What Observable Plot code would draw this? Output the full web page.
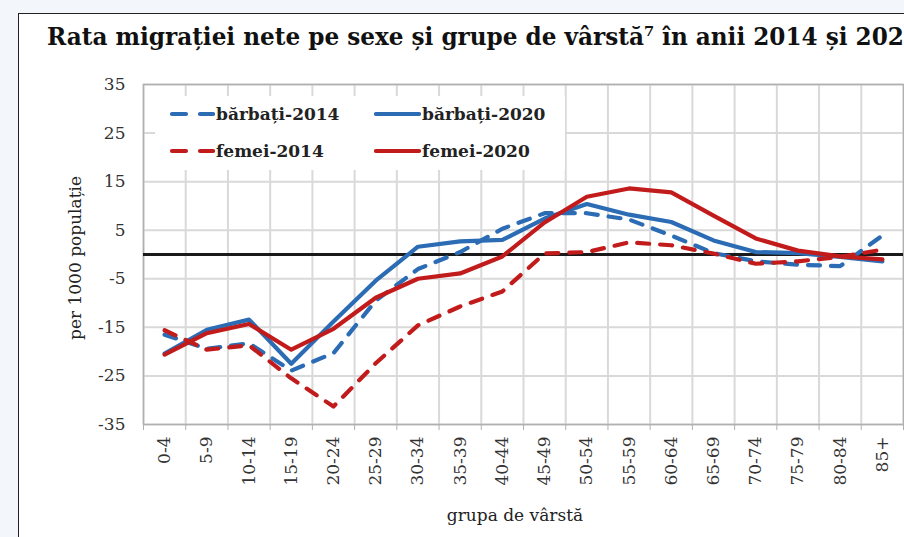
<!DOCTYPE html>
<html><head><meta charset="utf-8">
<script src="https://cdn.jsdelivr.net/npm/d3@7"></script>
<script src="https://cdn.jsdelivr.net/npm/@observablehq/plot@0.6"></script>
<style>
body{margin:0;background:#f3f7fc;width:904px;height:537px;overflow:hidden;position:relative;font-family:"DejaVu Serif",serif;color:#222}
#box{position:absolute;left:18px;top:13px;width:900px;height:540px;background:#fff;border:1.5px solid #222}
#title{position:absolute;left:0;top:0}
#chart{position:absolute;left:0;top:0}
#ylab{position:absolute;left:75px;top:258px;transform:translate(-50%,-50%) rotate(-90deg);font-size:17px;white-space:nowrap}
#xlab{position:absolute;left:515px;top:515px;transform:translate(-50%,-50%);font-size:17px;white-space:nowrap}
#legend{position:absolute;left:155px;top:96px;width:410px;height:74px;background:#fff}
.item{position:absolute;display:flex;align-items:center;font:bold 17px "DejaVu Serif",serif;white-space:nowrap}
.item svg{display:block;margin-right:1px}
</style></head>
<body>
<div id="box"></div>
<svg id="title" width="904" height="60"><text x="47" y="45" font-family="DejaVu Serif, serif" font-weight="bold" font-size="25" fill="#111" textLength="873" lengthAdjust="spacingAndGlyphs">Rata migrației nete pe sexe și grupe de vârstă⁷ în anii 2014 și 2020</text></svg>
<div id="chart"></div>
<div id="ylab">per 1000 populație</div>
<div id="xlab">grupa de vârstă</div>
<div id="legend"></div>
<script>
const ageGroups = ["0-4","5-9","10-14","15-19","20-24","25-29","30-34","35-39","40-44","45-49","50-54","55-59","60-64","65-69","70-74","75-79","80-84","85+"];
const barbati2014 = [-16.5,-19.4,-18.3,-23.9,-20.3,-9.5,-3.0,0.5,5.3,8.5,8.5,7.2,3.9,0.3,-1.4,-2.1,-2.4,3.9];
const barbati2020 = [-20.4,-15.5,-13.4,-22.5,-13.8,-5.4,1.6,2.7,3.0,7.4,10.4,8.2,6.7,2.9,0.5,0.3,-0.5,-1.4];
const femei2014 = [-15.6,-19.6,-18.7,-25.5,-31.3,-22.4,-14.6,-10.7,-7.6,0.2,0.5,2.5,1.9,0.2,-1.9,-1.4,-0.5,1.0];
const femei2020 = [-20.6,-16.2,-14.3,-19.6,-15.3,-8.9,-5.0,-3.9,-0.4,6.6,11.9,13.6,12.8,8.0,3.3,0.8,-0.4,-1.0];
const yTicks = [-35,-25,-15,-5,5,15,25,35];

const BLUE = "#2b6cb4", RED = "#c21b1b";
const series = [
  {name:"bărbați-2014", values:barbati2014, color:BLUE, dash:"12,11"},
  {name:"bărbați-2020", values:barbati2020, color:BLUE, dash:null},
  {name:"femei-2014", values:femei2014, color:RED, dash:"12,11"},
  {name:"femei-2020", values:femei2020, color:RED, dash:null}
];
const idx = d3.range(ageGroups.length);
const bounds = d3.range(ageGroups.length + 1).map(i => i - 0.5);

const lineMarks = series.map(s => Plot.line(s.values.map((v,i)=>({i, v})), {
  x:"i", y:"v", stroke:s.color, strokeWidth:4.2,
  strokeDasharray: s.dash || undefined,
  strokeLinecap:"round", strokeLinejoin:"round"
}));

const chart = Plot.plot({
  width:904, height:537,
  marginLeft:143, marginRight:1, marginTop:84, marginBottom:113,
  x:{domain:[-0.5, ageGroups.length - 0.5]},
  y:{domain:[-35,35]},
  style:{background:"transparent", fontFamily:"DejaVu Serif, serif", color:"#333"},
  marks:[
    Plot.gridY(yTicks, {stroke:"#d9d9d9", strokeOpacity:1, strokeWidth:2}),
    Plot.gridX(bounds, {stroke:"#d9d9d9", strokeOpacity:1, strokeWidth:2}),
    Plot.frame({stroke:"#b0b0b0", strokeWidth:1.5}),
    Plot.axisY(yTicks, {tickSize:0, tickPadding:18, fontSize:17, tickFormat:d => String(d), label:null}),
    Plot.axisX(idx, {tickFormat:i => ageGroups[i], tickRotate:-90, tickSize:0, tickPadding:12, fontSize:17, label:null}),
    Plot.axisX(bounds, {tickSize:6, tickFormat:() => "", stroke:"#b0b0b0", label:null}),
    Plot.ruleY([0], {stroke:"#1a1a1a", strokeWidth:3}),
    ...lineMarks
  ]
});
document.getElementById("chart").appendChild(chart);

const legend = document.getElementById("legend");
const pos = [[13,20],[219,20],[13,57],[219,57]];
series.forEach((s,k) => {
  const d = document.createElement("div");
  d.className = "item";
  d.style.left = pos[k][0] + "px";
  d.style.top = (pos[k][1] - 12) + "px";
  const dashAttr = s.dash ? `stroke-dasharray="14,14" stroke-dashoffset="-2"` : "";
  d.innerHTML = `<svg width="47" height="10"><line x1="2" y1="5" x2="45" y2="5" stroke="${s.color}" stroke-width="4.2" stroke-linecap="round" ${dashAttr}/></svg><span>${s.name}</span>`;
  legend.appendChild(d);
});
</script>
</body></html>
